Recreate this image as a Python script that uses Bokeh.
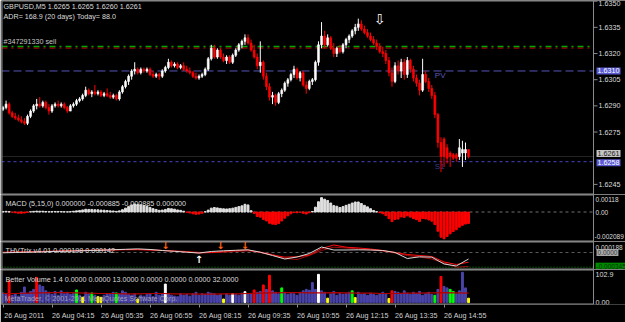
from bokeh.plotting import figure
from bokeh.layouts import column
from bokeh.models import (Range1d, FixedTicker, Label, Span, ColumnDataSource,
                          CustomJSTickFormatter)
from bokeh.embed import file_html
from bokeh.resources import INLINE
from bokeh.core.properties import value

# ---------------- texts ----------------
symbol_title = "GBPUSD,M5  1.6265 1.6265 1.6260 1.6261"
adr_title = "ADR= 168.9  (20 days) Today= 88.0"
order_title = "#347291330 sell"
macd_title = "MACD  (5,15,0) 0.000000 -0.000885 -0.000885 0.000000"
thv_title = "THVTrix v4.01  0.000198  0.000142"
vol_title = "Better Volume 1.4 0.0000 0.0000 13.0000 0.0000 0.0000 0.0000 32.0000"
copyright_text = "MetaTrader, \u00a9 2001-2011 MetaQuotes Software Corp."

time_tick_bars = [0, 16, 32, 48, 64, 80, 96, 112, 128, 144]
time_tick_labels = ["26 Aug 2011", "26 Aug 04:15", "26 Aug 05:35", "26 Aug 06:55",
                    "26 Aug 08:15", "26 Aug 09:35", "26 Aug 10:55", "26 Aug 12:15",
                    "26 Aug 13:35", "26 Aug 14:55"]

price_ticks = [1.6245, 1.6275, 1.6290, 1.6305, 1.6320, 1.6335, 1.6350]
order_price = 1.6324
pivot_pv = 1.6310
pivot_s1 = 1.6258
bid_price = 1.6261
pv_label_bar = 141
signal_arrow_bars = [123]
signal_arrow_levels = [1.6340]

# ---------------- candles (M5) ----------------
opens = [
    1.6288, 1.6289, 1.6291, 1.6286, 1.6284, 1.6283, 1.6282, 1.6281, 1.6280, 1.6284,
    1.6287, 1.6290, 1.6291, 1.6290, 1.6292, 1.6289, 1.6287, 1.6290, 1.6291, 1.6290,
    1.6291, 1.6289, 1.6287, 1.6290, 1.6291, 1.6293, 1.6294, 1.6296, 1.6299, 1.6297,
    1.6298, 1.6297, 1.6298, 1.6296, 1.6297, 1.6296, 1.6295, 1.6296, 1.6294, 1.6298,
    1.6301, 1.6304, 1.6307, 1.6310, 1.6311, 1.6309, 1.6311, 1.6310, 1.6311, 1.6308,
    1.6307, 1.6308, 1.6307, 1.6310, 1.6312, 1.6315, 1.6313, 1.6314, 1.6312, 1.6313,
    1.6311, 1.6310, 1.6309, 1.6307, 1.6306, 1.6307, 1.6308, 1.6311, 1.6317, 1.6323,
    1.6318, 1.6322, 1.6318, 1.6316, 1.6318, 1.6315, 1.6319, 1.6322, 1.6325, 1.6327,
    1.6329, 1.6326, 1.6322, 1.6318, 1.6313, 1.6315, 1.6307, 1.6301, 1.6295, 1.6296,
    1.6292, 1.6297, 1.6299, 1.6303, 1.6305, 1.6308, 1.6311, 1.6306, 1.6309, 1.6302,
    1.6300, 1.6304, 1.6305, 1.6315, 1.6325, 1.6330, 1.6325, 1.6329, 1.6323, 1.6320,
    1.6323, 1.6321, 1.6325, 1.6328, 1.6330, 1.6333, 1.6335, 1.6337, 1.6334, 1.6332,
    1.6330, 1.6328, 1.6326, 1.6324, 1.6321, 1.6320, 1.6316, 1.6309, 1.6304, 1.6313,
    1.6310, 1.6315, 1.6308, 1.6316, 1.6311, 1.6306, 1.6303, 1.6299, 1.6308, 1.6304,
    1.6300, 1.6296, 1.6285, 1.6269, 1.6271, 1.6266, 1.6263, 1.6262, 1.6262, 1.6261,
    1.6263, 1.6263, 1.6265]
highs = [
    1.6290, 1.6293, 1.6292, 1.6287, 1.6286, 1.6285, 1.6284, 1.6283, 1.6285, 1.6288,
    1.6291, 1.6294, 1.6295, 1.6293, 1.6293, 1.6291, 1.6291, 1.6292, 1.6293, 1.6292,
    1.6292, 1.6290, 1.6291, 1.6292, 1.6294, 1.6295, 1.6297, 1.6301, 1.6300, 1.6299,
    1.6302, 1.6299, 1.6299, 1.6298, 1.6300, 1.6298, 1.6297, 1.6297, 1.6299, 1.6302,
    1.6305, 1.6308, 1.6311, 1.6315, 1.6312, 1.6312, 1.6312, 1.6312, 1.6312, 1.6310,
    1.6309, 1.6309, 1.6311, 1.6313, 1.6317, 1.6316, 1.6315, 1.6315, 1.6314, 1.6315,
    1.6313, 1.6312, 1.6310, 1.6309, 1.6308, 1.6309, 1.6312, 1.6318, 1.6325, 1.6325,
    1.6323, 1.6323, 1.6320, 1.6319, 1.6319, 1.6320, 1.6323, 1.6326, 1.6328, 1.6331,
    1.6331, 1.6328, 1.6325, 1.6320, 1.6327, 1.6316, 1.6309, 1.6303, 1.6298, 1.6297,
    1.6298, 1.6300, 1.6304, 1.6306, 1.6309, 1.6313, 1.6312, 1.6310, 1.6310, 1.6304,
    1.6305, 1.6306, 1.6316, 1.6327, 1.6338, 1.6333, 1.6331, 1.6330, 1.6326, 1.6324,
    1.6325, 1.6326, 1.6329, 1.6331, 1.6334, 1.6337, 1.6340, 1.6339, 1.6336, 1.6334,
    1.6332, 1.6330, 1.6328, 1.6326, 1.6324, 1.6322, 1.6318, 1.6312, 1.6315, 1.6316,
    1.6317, 1.6317, 1.6318, 1.6317, 1.6313, 1.6308, 1.6305, 1.6317, 1.6310, 1.6306,
    1.6302, 1.6298, 1.6286, 1.6272, 1.6272, 1.6268, 1.6264, 1.6263, 1.6263, 1.6271,
    1.6270, 1.6269, 1.6265]
lows = [
    1.6287, 1.6288, 1.6285, 1.6283, 1.6282, 1.6281, 1.6280, 1.6279, 1.6279, 1.6283,
    1.6286, 1.6288, 1.6289, 1.6289, 1.6288, 1.6285, 1.6286, 1.6289, 1.6289, 1.6289,
    1.6288, 1.6286, 1.6287, 1.6289, 1.6290, 1.6292, 1.6293, 1.6295, 1.6296, 1.6295,
    1.6296, 1.6296, 1.6295, 1.6295, 1.6295, 1.6294, 1.6294, 1.6293, 1.6293, 1.6297,
    1.6300, 1.6302, 1.6305, 1.6308, 1.6308, 1.6308, 1.6309, 1.6309, 1.6307, 1.6306,
    1.6306, 1.6305, 1.6306, 1.6309, 1.6311, 1.6312, 1.6312, 1.6311, 1.6311, 1.6310,
    1.6309, 1.6308, 1.6306, 1.6305, 1.6305, 1.6306, 1.6307, 1.6310, 1.6316, 1.6317,
    1.6317, 1.6317, 1.6315, 1.6314, 1.6314, 1.6314, 1.6318, 1.6321, 1.6323, 1.6325,
    1.6325, 1.6321, 1.6317, 1.6311, 1.6309, 1.6305, 1.6299, 1.6293, 1.6291, 1.6290,
    1.6291, 1.6295, 1.6298, 1.6301, 1.6304, 1.6306, 1.6305, 1.6304, 1.6301, 1.6297,
    1.6299, 1.6302, 1.6304, 1.6313, 1.6323, 1.6323, 1.6324, 1.6322, 1.6318, 1.6318,
    1.6320, 1.6320, 1.6323, 1.6326, 1.6329, 1.6331, 1.6333, 1.6333, 1.6331, 1.6329,
    1.6327, 1.6325, 1.6322, 1.6320, 1.6318, 1.6314, 1.6307, 1.6301, 1.6303, 1.6308,
    1.6306, 1.6305, 1.6306, 1.6309, 1.6304, 1.6301, 1.6296, 1.6298, 1.6303, 1.6298,
    1.6294, 1.6283, 1.6266, 1.6252, 1.6255, 1.6257, 1.6255, 1.6259, 1.6258, 1.6259,
    1.6255, 1.6259, 1.6260]
closes = [
    1.6289, 1.6291, 1.6286, 1.6284, 1.6283, 1.6282, 1.6281, 1.6280, 1.6284, 1.6287,
    1.6290, 1.6291, 1.6290, 1.6292, 1.6289, 1.6287, 1.6290, 1.6291, 1.6290, 1.6291,
    1.6289, 1.6287, 1.6290, 1.6291, 1.6293, 1.6294, 1.6296, 1.6299, 1.6297, 1.6298,
    1.6297, 1.6298, 1.6296, 1.6297, 1.6296, 1.6295, 1.6296, 1.6294, 1.6298, 1.6301,
    1.6304, 1.6307, 1.6310, 1.6311, 1.6309, 1.6311, 1.6310, 1.6311, 1.6308, 1.6307,
    1.6308, 1.6307, 1.6310, 1.6312, 1.6315, 1.6313, 1.6314, 1.6312, 1.6313, 1.6311,
    1.6310, 1.6309, 1.6307, 1.6306, 1.6307, 1.6308, 1.6311, 1.6317, 1.6323, 1.6318,
    1.6322, 1.6318, 1.6316, 1.6318, 1.6315, 1.6319, 1.6322, 1.6325, 1.6327, 1.6329,
    1.6326, 1.6322, 1.6318, 1.6313, 1.6315, 1.6307, 1.6301, 1.6295, 1.6296, 1.6292,
    1.6297, 1.6299, 1.6303, 1.6305, 1.6308, 1.6311, 1.6306, 1.6309, 1.6302, 1.6300,
    1.6304, 1.6305, 1.6315, 1.6325, 1.6330, 1.6325, 1.6329, 1.6323, 1.6320, 1.6323,
    1.6321, 1.6325, 1.6328, 1.6330, 1.6333, 1.6335, 1.6337, 1.6334, 1.6332, 1.6330,
    1.6328, 1.6326, 1.6324, 1.6321, 1.6320, 1.6316, 1.6309, 1.6304, 1.6313, 1.6310,
    1.6315, 1.6308, 1.6316, 1.6311, 1.6306, 1.6303, 1.6299, 1.6308, 1.6304, 1.6300,
    1.6296, 1.6285, 1.6269, 1.6261, 1.6261, 1.6260, 1.6261, 1.6260, 1.6260, 1.6266,
    1.6265, 1.6265, 1.6261]

# ---------------- MACD histogram ----------------
macd_hist = [
    0.00004, 0.00005, 0.00003, -0.00002, -0.00006, -0.00009, -0.00010, -0.00008, -0.00003, 0.00002,
    0.00005, 0.00007, 0.00006, 0.00006, 0.00004, 0.00002, 0.00003, 0.00004, 0.00004, 0.00003,
    0.00002, 0.00001, 0.00003, 0.00006, 0.00009, 0.00012, 0.00016, 0.00021, 0.00020, 0.00020,
    0.00018, 0.00017, 0.00015, 0.00014, 0.00012, 0.00009, 0.00008, 0.00005, 0.00009, 0.00018,
    0.00030, 0.00042, 0.00055, 0.00062, 0.00058, 0.00056, 0.00050, 0.00045, 0.00036, 0.00026,
    0.00020, 0.00013, 0.00015, 0.00020, 0.00028, 0.00025, 0.00022, 0.00016, 0.00013, 0.00006,
    -0.00002, -0.00008, -0.00014, -0.00018, -0.00016, -0.00010, 0.00002, 0.00015, 0.00030, 0.00035,
    0.00032, 0.00028, 0.00025, 0.00024, 0.00026, 0.00030, 0.00036, 0.00042, 0.00048, 0.00060,
    0.00055, 0.00010, -0.00012, -0.00035, -0.00040, -0.00058, -0.00070, -0.00088, -0.00095, -0.00098,
    -0.00090, -0.00070, -0.00048, -0.00030, -0.00014, -0.00004, -0.00006, -0.00002, -0.00010, -0.00016,
    -0.00006, 0.00004, 0.00038, 0.00080, 0.00112, 0.00100, 0.00090, 0.00070, 0.00050, 0.00045,
    0.00035, 0.00042, 0.00052, 0.00060, 0.00070, 0.00078, 0.00078, 0.00066, 0.00052, 0.00040,
    0.00026, 0.00012, 0.00002, -0.00006, -0.00014, -0.00028, -0.00052, -0.00075, -0.00058, -0.00055,
    -0.00038, -0.00042, -0.00030, -0.00040, -0.00052, -0.00060, -0.00074, -0.00050, -0.00054, -0.00062,
    -0.00072, -0.00098, -0.00150, -0.00196, -0.00209, -0.00190, -0.00170, -0.00152, -0.00138, -0.00118,
    -0.00104, -0.00094, -0.00089]
macd_max_level = 0.00118
macd_min_level = -0.002089

# ---------------- THV Trix ----------------
thv_bars = [0, 4, 8, 12, 16, 20, 24, 28, 32, 36, 40, 44, 48, 52, 56, 60, 64, 68, 72, 76,
            80, 84, 88, 92, 96, 100, 104, 108, 112, 116, 120, 124, 128, 132, 136, 140, 144, 148, 152]
thv_main = [-0.000007, 0.0, 0.000007, 0.000012, 0.000024, 0.000028, 0.000035, 0.000047, 0.000052,
            0.000066, 0.000075, 0.000085, 0.000071, 0.000047, 0.000028, 0.000007, -0.000012, 0.000024,
            0.000040, 0.000052, 0.000063, 0.000007, -0.000071, -0.000153, -0.000106, -0.000024,
            0.000129, 0.000059, 0.000059, 0.000063, 0.000059, 0.000047, 0.0, -0.000141, -0.000101,
            -0.000110, -0.000270, -0.000317, -0.000153]
thv_signal = [0.000007, 0.000012, 0.000016, 0.000024, 0.000031, 0.000040, 0.000047, 0.000054, 0.000059,
              0.000063, 0.000071, 0.000071, 0.000059, 0.000047, 0.000031, 0.000012, -0.000012, 0.0,
              0.000024, 0.000047, 0.000059, 0.0, -0.000059, -0.000110, -0.000101, -0.000059,
              0.000094, 0.000176, 0.000125, 0.000106, 0.000082, 0.000047, 0.0, -0.000047, -0.000071,
              -0.000094, -0.000223, -0.000282, -0.000228]
thv_slow = [0.0, 0.000005, 0.000009, 0.000016, 0.000024, 0.000031, 0.000038, 0.000045, 0.000049,
            0.000054, 0.000061, 0.000063, 0.000059, 0.000049, 0.000038, 0.000024, 0.000005, -0.000005,
            0.000005, 0.000024, 0.000038, 0.000012, -0.000047, -0.000141, -0.000165, -0.000071,
            0.000047, 0.000125, 0.000106, 0.000082, 0.000059, 0.000035, -0.000012, -0.000071, -0.000106,
            -0.000153, -0.000247, -0.000345, -0.000329]
thv_sell_bars = [53, 71, 79]
thv_sell_levels = [0.000176, 0.000176, 0.000176]
thv_buy_bars = [64]
thv_buy_levels = [-0.000176]
thv_top_level = 0.000188
thv_low_level = -0.000345

# ---------------- Better Volume ----------------
volumes = [
    33, 28, 74, 25, 30, 22, 35, 53, 30, 38,
    45, 86, 60, 55, 40, 35, 28, 38, 25, 40,
    30, 35, 28, 32, 43, 25, 18, 35, 30, 33,
    25, 20, 18, 25, 30, 28, 35, 33, 30, 40,
    35, 28, 25, 30, 12, 25, 22, 28, 30, 20,
    35, 25, 30, 63, 30, 25, 22, 20, 30, 25,
    28, 22, 30, 35, 25, 30, 28, 35, 32, 30,
    25, 28, 12, 30, 25, 30, 28, 25, 32, 37,
    28, 30, 43, 35, 38, 60, 45, 93, 40, 35,
    30, 50, 35, 28, 32, 30, 25, 35, 40, 45,
    42, 68, 45, 96, 40, 35, 15, 30, 38, 25,
    32, 28, 30, 35, 40, 17, 35, 28, 30, 25,
    32, 28, 25, 30, 35, 28, 14, 40, 38, 35,
    30, 40, 32, 28, 35, 30, 38, 25, 30, 35,
    28, 25, 45, 89, 55, 50, 45, 38, 30, 40,
    103, 50, 15]
vol_kind = (
    "b b r b b b b b b b "
    "b r b b b b b b b b "
    "b b b b g b y b b g "
    "b y y b b b b g b b "
    "b b b b y b b b b b "
    "b b b w b b b b b b "
    "b b b b b b b b b b "
    "b b y b b w b b b w "
    "b b r b b r b r b b "
    "b g b b b b b b b b "
    "b b b w b b y b b b "
    "b b b b g y b b b b "
    "b b b b b b y r b b "
    "b b b b b b b b b b "
    "b g b r b b g g b b "
    "b b y").split()
vol_avg = [31, 31, 32, 33, 34, 34, 33, 32, 31, 31, 30, 30, 31, 31, 30, 30, 29, 29, 30, 30,
           31, 32, 33, 34, 34, 33, 33, 34, 33, 32, 32, 31, 31, 32, 32, 33, 34, 33, 32]
vol_max_level = 102.9

# ---------------- styling / geometry ----------------
FONT = "Liberation Sans"
FS = "7.2px"
FS_SMALL = "6.5px"
BG = "#000000"
FRAME = "#8c8c8c"
TXT = "#dcdcdc"
N = len(closes)
bars = list(range(N))
X_START, X_AXIS, X_END = -0.49, 192.8, 203.24   # plot area ends at X_AXIS, price scale to the right
time_label_shift = 7.0                            # labels start at their tick (MT4 style)
xr = Range1d(X_START, X_END)


def panel(height, y0, y1, bottom=0, xaxis=None):
    p = figure(width=625, height=height, x_range=xr, y_range=Range1d(y0, y1),
               toolbar_location=None, output_backend="svg",
               x_axis_location=xaxis, y_axis_location=None,
               min_border_left=1, min_border_right=0,
               min_border_top=0, min_border_bottom=bottom,
               background_fill_color=BG, border_fill_color=BG, outline_line_color=None)
    p.grid.visible = False
    p.segment(x0=[X_START, X_START], x1=[X_AXIS, X_AXIS], y0=[y0, y1], y1=[y0, y1],
              line_color=FRAME, line_width=2)
    p.add_layout(Span(location=X_AXIS, dimension="height", line_color=FRAME, line_width=1))
    p.add_layout(Span(location=X_START, dimension="height", line_color=FRAME, line_width=2))
    return p


def lab(p, x, y, text, **kw):
    opts = dict(x=x, y=y, text=text, text_font=FONT, text_font_size=FS,
                text_color=TXT, text_baseline="middle")
    opts.update(kw)
    p.add_layout(Label(**opts))


def scale_text(p, ys, texts, baseline, size=FS, offset=2):
    p.text(x=[X_AXIS] * len(ys), y=ys, text=texts, x_offset=offset, text_font=value(FONT),
           text_font_size=size, text_color=TXT, text_baseline=baseline, text_align="left")


# ---------------- main price panel ----------------
PMIN, PMAX = 1.62392, 1.63504
p1 = panel(194, PMIN, PMAX)
px_price = (PMAX - PMIN) / 194.0

for loc, col, dash, w in [(pivot_pv, "#5555b8", "8 4", 1),
                          (bid_price, "#4a4a4a", "1 1", 1),
                          (pivot_s1, "#4444c4", "3 3", 1),
                          (order_price - 1.5 * px_price, "#c80000", "6 4 2 4", 1),
                          (order_price, "#00a800", "6 4 2 4", 1.5)]:
    p1.segment(x0=[X_START], x1=[X_AXIS], y0=[loc], y1=[loc], line_color=col,
               line_dash=dash, line_width=w)

p1.text(x=[pv_label_bar], y=[pivot_pv], text=["PV"], text_font=value(FONT),
        text_font_size="8px", text_color="#5a5ab8", text_baseline="top")
p1.text(x=[pv_label_bar], y=[pivot_s1], text=["S1"], text_font=value(FONT),
        text_font_size="8px", text_color="#3a3a90", text_baseline="top")

up = [c >= o for o, c in zip(opens, closes)]
csrc = ColumnDataSource(dict(
    x=bars, h=highs, l=lows,
    top=[max(o, c) for o, c in zip(opens, closes)],
    bottom=[min(o, c) for o, c in zip(opens, closes)],
    color=["#ffffff" if u else "#ff0000" for u in up]))
p1.segment(x0="x", y0="l", x1="x", y1="h", line_color="color", line_width=1, source=csrc)
p1.vbar(x="x", top="top", bottom="bottom", width=0.62, fill_color="color",
        line_color="color", line_width=0.6, source=csrc)

p1.text(x=signal_arrow_bars, y=signal_arrow_levels, text=["\u21e9"] * len(signal_arrow_bars),
        text_font=value("DejaVu Sans"), text_font_size="14px", text_color="#ffffff",
        text_align="center", text_baseline="middle")

# price scale (the topmost label hangs below its tick so it stays inside the window)
p1.ray(x=[X_AXIS] * len(price_ticks), y=price_ticks, length=4, length_units="screen",
       angle=0, line_color=FRAME, line_width=1)
inner = [t for t in price_ticks if t < PMAX - 5 * px_price]
edge = [t for t in price_ticks if t >= PMAX - 5 * px_price]
scale_text(p1, inner, [f"{t:.4f}" for t in inner], "middle", offset=5)
scale_text(p1, edge, [f"{t:.4f}" for t in edge], "top", offset=5)

lab(p1, X_START, PMAX, symbol_title, x_offset=2, y_offset=-1, text_baseline="top")
lab(p1, X_START, PMAX, adr_title, x_offset=2, y_offset=-11, text_baseline="top")
lab(p1, X_START, order_price, order_title, x_offset=2, y_offset=1, text_baseline="bottom",
    text_color="#c8c8c8")
lab(p1, X_AXIS, pivot_pv, f"{pivot_pv:.4f}", x_offset=3, text_color="#ffffff",
    background_fill_color="#5a5ad2", padding=1)
lab(p1, X_AXIS, bid_price, f"{bid_price:.4f}", x_offset=3, y_offset=3, text_color="#202020",
    background_fill_color="#c4c4c4", padding=1)
lab(p1, X_AXIS, pivot_s1, f"{pivot_s1:.4f}", x_offset=3, y_offset=-1, text_color="#ffffff",
    background_fill_color="#5a5ad2", padding=1)

# ---------------- MACD panel ----------------
MMIN, MMAX = -0.002299, 0.001364
p2 = panel(47, MMIN, MMAX)
p2.segment(x0=[X_START], x1=[X_AXIS], y0=[0], y1=[0], line_color="#707070",
           line_dash="3 3", line_width=1)
p2.vbar(x=bars, top=macd_hist, bottom=0, width=0.62,
        color=["#e0e0e0" if v >= 0 else "#ff0000" for v in macd_hist])
lab(p2, X_START, MMAX, macd_title, x_offset=4, y_offset=-4, text_baseline="top")
scale_text(p2, [macd_max_level], [f"{macd_max_level:.5f}"], "top", FS_SMALL)
scale_text(p2, [0.0], ["0.00"], "middle", FS_SMALL)
scale_text(p2, [macd_min_level], [f"{macd_min_level:.6f}"], "bottom", FS_SMALL, offset=1)

# ---------------- THV Trix panel ----------------
TMIN, TMAX = -0.0003995, 0.0002585
p3 = panel(28, TMIN, TMAX)
p3.segment(x0=[X_START], x1=[X_AXIS], y0=[0], y1=[0], line_color="#5a5a5a",
           line_dash="3 3", line_width=1)
p3.segment(x0=[X_START], x1=[X_AXIS], y0=[thv_low_level], y1=[thv_low_level],
           line_color="#00a000", line_dash="1 2", line_width=1)
p3.line(thv_bars, thv_slow, line_color="#a00a0a", line_width=1)
p3.line(thv_bars, thv_signal, line_color="#ff1010", line_width=1)
p3.line(thv_bars, thv_main, line_color="#d8d8d8", line_width=1)
p3.text(x=thv_sell_bars, y=thv_sell_levels, text=["\u2193"] * len(thv_sell_bars),
        text_font=value("DejaVu Sans"), text_font_size="10px", text_font_style="bold",
        text_color="#ff6010", text_align="center", text_baseline="middle")
p3.text(x=thv_buy_bars, y=thv_buy_levels, text=["\u2191"] * len(thv_buy_bars),
        text_font=value("DejaVu Sans"), text_font_size="10px", text_font_style="bold",
        text_color="#ffffff", text_align="center", text_baseline="middle")
lab(p3, X_START, TMAX, thv_title, x_offset=4, y_offset=-4, text_baseline="top")
scale_text(p3, [thv_top_level], [f"{thv_top_level:.6f}"], "top", FS_SMALL)
lab(p3, X_AXIS, 0.0, "0.0000", x_offset=3, text_color="#3c3c3c", text_font_size=FS_SMALL,
    background_fill_color="#a8a8a8", padding=1)
lab(p3, X_AXIS, thv_low_level, f"{thv_low_level:.6f}", x_offset=2, y_offset=1,
    text_color="#003000", text_font_size=FS_SMALL, background_fill_color="#008a00", padding=1)

# ---------------- Better Volume panel ----------------
VMIN, VMAX = -6.43, 112.5
p4 = panel(53, VMIN, VMAX, bottom=16, xaxis="below")
vx = p4.xaxis[0]
label_centers = [b + time_label_shift for b in time_tick_bars]
vx.ticker = FixedTicker(ticks=label_centers, minor_ticks=time_tick_bars)
vx.formatter = CustomJSTickFormatter(
    args=dict(centers=label_centers, labels=time_tick_labels),
    code="""
    let best = 0;
    for (let k = 0; k < centers.length; k++) {
        if (Math.abs(centers[k] - tick) < Math.abs(centers[best] - tick)) best = k;
    }
    return labels[best];
    """)
vx.axis_line_color = None
vx.major_tick_out = 0
vx.major_tick_in = 0
vx.minor_tick_out = 3
vx.minor_tick_in = 0
vx.minor_tick_line_color = FRAME
vx.major_label_standoff = 3
vx.major_label_text_font = FONT
vx.major_label_text_font_size = FS
vx.major_label_text_color = "#d0d0d0"

kind_color = {"b": "#4a44aa", "r": "#ff0000", "g": "#00ff00", "y": "#ffff00", "w": "#ffffff"}
p4.vbar(x=bars, top=volumes, bottom=0, width=0.62, color=[kind_color[k] for k in vol_kind])
p4.line(thv_bars, vol_avg, line_color="#b40000", line_width=1.2)
p4.text(x=[X_START], y=[0], text=[copyright_text], text_font=value(FONT), text_font_size=FS,
        text_color="#b4b4b4", text_alpha=0.85, text_baseline="bottom", x_offset=3)
lab(p4, X_START, VMAX, vol_title, x_offset=4, y_offset=-5, text_baseline="top")
scale_text(p4, [vol_max_level], [f"{vol_max_level:.1f}"], "top")
scale_text(p4, [0.0], ["0.00"], "middle")

layout = column(p1, p2, p3, p4, spacing=0)
open("out.html", "w").write(file_html(layout, INLINE, title="GBPUSD,M5"))
